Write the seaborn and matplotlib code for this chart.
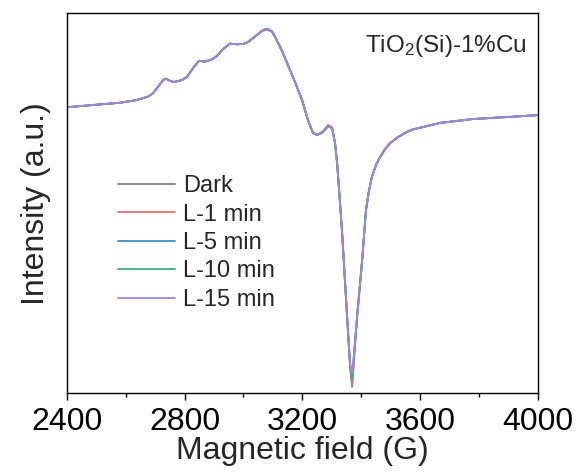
import matplotlib
matplotlib.use("Agg")
import matplotlib.pyplot as plt
import seaborn as sns
import pandas as pd
from matplotlib.ticker import MultipleLocator

# Magnetic field axis (G)
field = [2400, 2489, 2581, 2639, 2676, 2693, 2710, 2727, 2737, 2751,
         2764, 2791, 2808, 2829, 2849, 2870, 2893, 2910, 2931, 2954,
         2978, 2999, 3016, 3039, 3063, 3080, 3097, 3107, 3124, 3134,
         3158, 3168, 3199, 3219, 3236, 3250, 3270, 3287, 3301, 3311,
         3318, 3324, 3335, 3345, 3355, 3362, 3369, 3375, 3386, 3403,
         3416, 3426, 3436, 3450, 3464, 3481, 3498, 3521, 3555, 3576,
         3667, 3779, 3895, 4000]

# EPR intensity (a.u.) for each irradiation time
dark = [-0.008, 0.000, 0.008, 0.018, 0.030, 0.042, 0.065, 0.089, 0.094, 0.086,
        0.082, 0.089, 0.100, 0.132, 0.158, 0.155, 0.163, 0.175, 0.200, 0.219,
        0.217, 0.218, 0.225, 0.244, 0.264, 0.270, 0.262, 0.244, 0.208, 0.186,
        0.125, 0.100, 0.018, -0.054, -0.100, -0.107, -0.096, -0.075, -0.082, -0.136,
        -0.207, -0.293, -0.457, -0.636, -0.814, -0.936, -1.007, -0.911, -0.757, -0.554,
        -0.375, -0.307, -0.257, -0.214, -0.186, -0.157, -0.136, -0.117, -0.096, -0.087,
        -0.064, -0.050, -0.043, -0.036]
light_1 = [-0.008, 0.000, 0.008, 0.018, 0.030, 0.042, 0.065, 0.089, 0.095, 0.087,
           0.082, 0.089, 0.100, 0.132, 0.158, 0.155, 0.163, 0.175, 0.200, 0.219,
           0.217, 0.218, 0.225, 0.244, 0.264, 0.270, 0.262, 0.244, 0.208, 0.186,
           0.125, 0.100, 0.018, -0.054, -0.100, -0.106, -0.094, -0.071, -0.079, -0.134,
           -0.206, -0.292, -0.457, -0.636, -0.814, -0.934, -1.000, -0.910, -0.757, -0.554,
           -0.375, -0.307, -0.257, -0.214, -0.186, -0.157, -0.136, -0.117, -0.096, -0.087,
           -0.064, -0.050, -0.043, -0.036]
light_5 = [-0.008, 0.000, 0.008, 0.018, 0.030, 0.042, 0.065, 0.089, 0.094, 0.086,
           0.082, 0.089, 0.100, 0.132, 0.158, 0.155, 0.163, 0.175, 0.200, 0.219,
           0.217, 0.218, 0.225, 0.245, 0.266, 0.273, 0.264, 0.245, 0.209, 0.186,
           0.125, 0.100, 0.018, -0.054, -0.100, -0.107, -0.096, -0.076, -0.083, -0.137,
           -0.207, -0.293, -0.456, -0.634, -0.810, -0.928, -0.979, -0.900, -0.754, -0.554,
           -0.375, -0.307, -0.257, -0.214, -0.186, -0.157, -0.136, -0.117, -0.096, -0.087,
           -0.064, -0.050, -0.043, -0.036]
light_10 = [-0.008, 0.000, 0.008, 0.018, 0.030, 0.042, 0.065, 0.089, 0.094, 0.086,
            0.082, 0.089, 0.100, 0.132, 0.158, 0.155, 0.163, 0.175, 0.200, 0.219,
            0.217, 0.218, 0.225, 0.244, 0.265, 0.272, 0.263, 0.244, 0.208, 0.186,
            0.125, 0.100, 0.018, -0.054, -0.100, -0.107, -0.096, -0.076, -0.083, -0.137,
            -0.207, -0.293, -0.456, -0.633, -0.808, -0.925, -0.971, -0.897, -0.753, -0.554,
            -0.375, -0.307, -0.257, -0.214, -0.186, -0.157, -0.136, -0.117, -0.096, -0.087,
            -0.064, -0.050, -0.043, -0.036]
light_15 = [-0.008, 0.000, 0.008, 0.018, 0.030, 0.042, 0.065, 0.089, 0.094, 0.086,
            0.082, 0.089, 0.100, 0.132, 0.158, 0.155, 0.163, 0.175, 0.200, 0.219,
            0.217, 0.218, 0.225, 0.244, 0.264, 0.271, 0.262, 0.244, 0.208, 0.186,
            0.125, 0.100, 0.018, -0.054, -0.100, -0.107, -0.097, -0.077, -0.084, -0.138,
            -0.208, -0.293, -0.455, -0.631, -0.805, -0.920, -0.957, -0.893, -0.751, -0.553,
            -0.375, -0.307, -0.257, -0.214, -0.186, -0.157, -0.136, -0.117, -0.096, -0.087,
            -0.064, -0.050, -0.043, -0.036]

series_names = ["Dark", "L-1 min", "L-5 min", "L-10 min", "L-15 min"]
series_values = [dark, light_1, light_5, light_10, light_15]
line_colors = ["#858585", "#e27272", "#3f8cc2", "#3fae80", "#a683d6"]

x_ticks = [2400, 2800, 3200, 3600, 4000]

frames = []
for name, vals in zip(series_names, series_values):
    frames.append(pd.DataFrame({"field": field, "intensity": vals, "sample": name}))
df = pd.concat(frames, ignore_index=True)

sns.set_theme(style="ticks")
plt.rcParams["font.family"] = ["Liberation Sans", "DejaVu Sans"]
plt.rcParams["mathtext.fontset"] = "custom"
plt.rcParams["mathtext.rm"] = "Liberation Sans"
plt.rcParams["mathtext.it"] = "Liberation Sans"
plt.rcParams["axes.linewidth"] = 1.0
plt.rcParams["axes.edgecolor"] = "black"

fig = plt.figure(figsize=(5.79, 4.72), dpi=100)
ax = fig.add_axes([0.1152, 0.1667, 0.8140, 0.8051])

sns.lineplot(data=df, x="field", y="intensity", hue="sample",
             hue_order=series_names, palette=line_colors,
             estimator=None, sort=False, linewidth=1.3, ax=ax)

ax.set_xlim(2400, 4000)
ax.set_ylim(-1.0296, 0.3275)
ax.set_xticks(x_ticks)
ax.set_xticklabels([str(t) for t in x_ticks])
ax.xaxis.set_minor_locator(MultipleLocator(200))
ax.set_yticks([])
ax.tick_params(axis="x", which="major", direction="out", length=5,
               width=1.0, labelsize=23, pad=5, colors="black",
               bottom=True, top=False)
ax.tick_params(axis="x", which="minor", direction="out", length=3,
               width=1.0, color="black", bottom=True, top=False)
for side in ["top", "right", "left", "bottom"]:
    ax.spines[side].set_visible(True)
    ax.spines[side].set_color("black")

ax.set_xlabel("Magnetic field (G)", fontsize=23, labelpad=-1)
ax.set_ylabel("Intensity (a.u.)", fontsize=23, labelpad=11)

ax.text(0.633, 0.899, r"TiO$_\mathregular{2}$(Si)-1%Cu", transform=ax.transAxes,
        fontsize=17.5, ha="left", va="baseline")

ax.legend(frameon=False, fontsize=17, loc="center left",
          bbox_to_anchor=(0.0887, 0.3955), borderaxespad=0,
          handlelength=2.4, handletextpad=0.34, labelspacing=0.27,
          title=None)

fig.savefig("out.png", dpi=100)
